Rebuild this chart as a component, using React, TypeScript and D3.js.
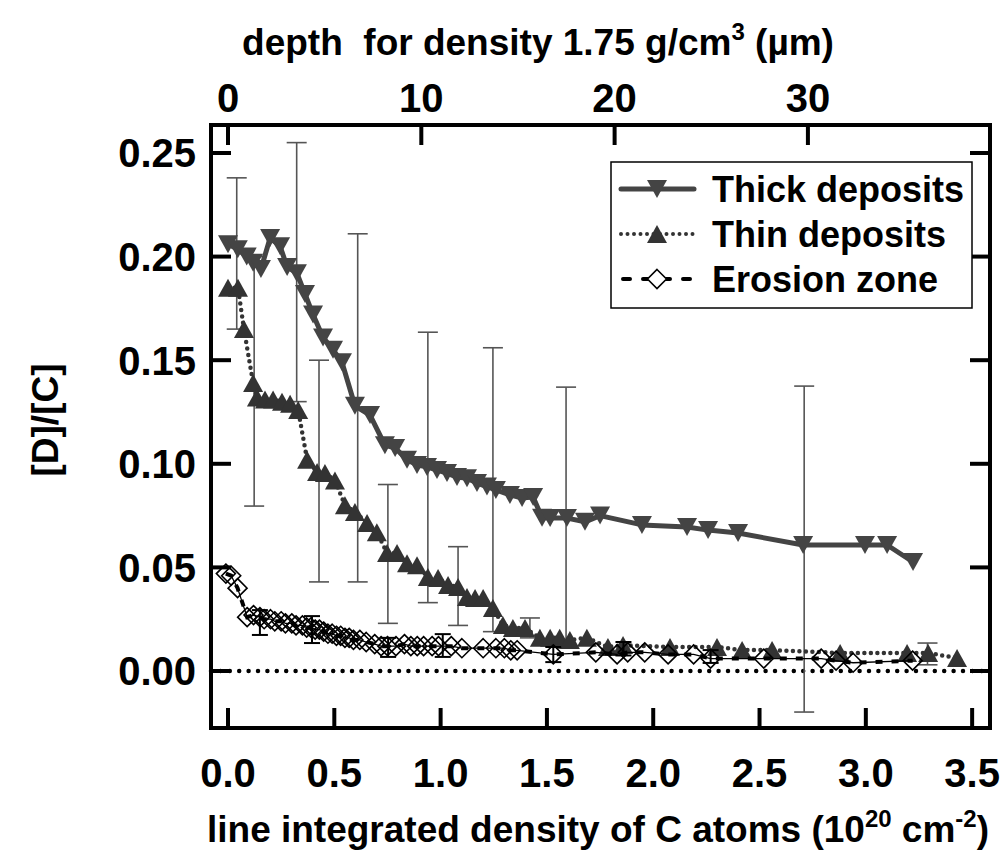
import React from "react";
import * as d3 from "d3";

// line integrated density (1e20 cm^-2) and [D]/[C]
const thickX = [0.0, 0.046, 0.088, 0.118, 0.155, 0.198, 0.245, 0.278, 0.324, 0.362, 0.4, 0.447, 0.494, 0.536, 0.597, 0.668, 0.738, 0.786, 0.842, 0.889, 0.936, 0.983, 1.03, 1.077, 1.124, 1.171, 1.218, 1.26, 1.326, 1.383, 1.435, 1.477, 1.515, 1.594, 1.679, 1.75, 1.947, 2.159, 2.258, 2.399, 2.705, 2.996, 3.1, 3.222];
const thickY = [0.206, 0.2035, 0.2, 0.197, 0.194, 0.209, 0.205, 0.195, 0.192, 0.182, 0.172, 0.161, 0.155, 0.149, 0.128, 0.1235, 0.109, 0.1076, 0.102, 0.0994, 0.0985, 0.097, 0.0955, 0.0936, 0.093, 0.0907, 0.089, 0.0874, 0.085, 0.0835, 0.084, 0.074, 0.0738, 0.0738, 0.072, 0.075, 0.0705, 0.0695, 0.068, 0.0666, 0.0608, 0.0608, 0.0608, 0.0526];

const thinX = [0.0, 0.047, 0.075, 0.118, 0.136, 0.174, 0.212, 0.254, 0.292, 0.33, 0.372, 0.419, 0.456, 0.503, 0.55, 0.597, 0.654, 0.7, 0.748, 0.795, 0.842, 0.889, 0.94, 0.988, 1.035, 1.082, 1.124, 1.162, 1.2, 1.246, 1.293, 1.34, 1.397, 1.467, 1.515, 1.56, 1.608, 1.688, 1.787, 1.858, 2.079, 2.3, 2.418, 2.559, 2.879, 3.194, 3.293, 3.429];
const thinY = [0.185, 0.185, 0.165, 0.139, 0.132, 0.131, 0.131, 0.13, 0.129, 0.126, 0.102, 0.096, 0.0955, 0.092, 0.08, 0.0767, 0.0714, 0.067, 0.057, 0.057, 0.052, 0.051, 0.0454, 0.0449, 0.0415, 0.0405, 0.0357, 0.0352, 0.0352, 0.0304, 0.0222, 0.0207, 0.0207, 0.016, 0.016, 0.016, 0.015, 0.016, 0.0116, 0.0125, 0.0116, 0.0116, 0.0101, 0.0101, 0.0087, 0.0087, 0.0087, 0.0063];

const erosionX = [-0.01, 0.015, 0.045, 0.09, 0.12, 0.15, 0.17, 0.2, 0.22, 0.25, 0.27, 0.3, 0.32, 0.35, 0.37, 0.39, 0.41, 0.43, 0.45, 0.47, 0.49, 0.51, 0.53, 0.55, 0.57, 0.59, 0.62, 0.65, 0.69, 0.72, 0.75, 0.79, 0.83, 0.86, 0.89, 0.92, 0.96, 0.99, 1.05, 1.1, 1.2, 1.26, 1.3, 1.33, 1.36, 1.53, 1.73, 1.83, 1.88, 1.96, 2.07, 2.19, 2.27, 2.52, 2.79, 2.86, 2.94, 3.22];
const erosionY = [0.047, 0.046, 0.04, 0.026, 0.027, 0.026, 0.025, 0.025, 0.024, 0.024, 0.023, 0.023, 0.022, 0.022, 0.021, 0.021, 0.02, 0.02, 0.019, 0.018, 0.018, 0.017, 0.017, 0.016, 0.016, 0.015, 0.015, 0.014, 0.013, 0.012, 0.012, 0.012, 0.013, 0.012, 0.012, 0.012, 0.012, 0.012, 0.012, 0.011, 0.011, 0.011, 0.011, 0.01, 0.01, 0.008, 0.009, 0.008, 0.009, 0.009, 0.008, 0.008, 0.006, 0.006, 0.006, 0.005, 0.004, 0.005];

// error bars: x, low, high
const thickErrX = [0.041, 0.323, 0.61, 0.94, 1.246, 1.59, 2.71];
const thickErrLo = [0.165, 0.13, 0.043, 0.033, 0.019, 0.011, -0.0198];
const thickErrHi = [0.238, 0.255, 0.211, 0.1635, 0.156, 0.137, 0.1375];
const thinErrX = [0.123, 0.428, 0.752, 1.082, 1.42, 3.29];
const thinErrLo = [0.0796, 0.043, 0.023, 0.022, 0.016, 0.003];
const thinErrHi = [0.2, 0.15, 0.09, 0.06, 0.0256, 0.0135];
const erosionErrX = [0.15, 0.395, 0.753, 1.01, 1.53, 1.86, 2.27];
const erosionErrLo = [0.0174, 0.0135, 0.0068, 0.0068, 0.0043, 0.0075, 0.0039];
const erosionErrHi = [0.0294, 0.0265, 0.016, 0.0178, 0.0116, 0.014, 0.0101];

const xTicks = [0, 0.5, 1, 1.5, 2, 2.5, 3, 3.5];
const yTicks = [0, 0.05, 0.1, 0.15, 0.2, 0.25];
const depthTicks = [0, 10, 20, 30];
const legendNames = ["Thick deposits", "Thin deposits", "Erosion zone"];

const W = 1003;
const H = 853;
const L = 211, R = 990, T = 125, B = 728;
const FONT = "Arial, 'Liberation Sans', Helvetica, sans-serif";

const x = d3.scaleLinear().domain([-0.08, 3.584]).range([L, R]);
const y = d3.scaleLinear().domain([-0.0275, 0.2635]).range([B, T]);
// depth in um for 1.75 g/cm3, roughly 11 um per 1e20 C/cm2
const xDepth = d3.scaleLinear().domain([-0.88, 39.42]).range([L, R]);

// markers a bit taller than equilateral, like the original
const upTri = "M0,-9L10,9L-10,9Z";
const downTri = "M0,9L10,-9L-10,-9Z";
const diamond = "M0,-9.5L9.5,0L0,9.5L-9.5,0Z";

const zip = (xs: number[], ys: number[]) => xs.map((v, i) => [v, ys[i]] as [number, number]);

const line = d3
  .line<[number, number]>()
  .x(d => x(d[0]))
  .y(d => y(d[1]));

const ErrBars: React.FC<{ xs: number[]; lo: number[]; hi: number[]; color: string; w: number; cap: number }> = ({ xs, lo, hi, color, w, cap }) => (
  <g stroke={color} strokeWidth={w}>
    {xs.map((v, i) => (
      <g key={i}>
        <line x1={x(v)} x2={x(v)} y1={y(lo[i])} y2={y(hi[i])} />
        <line x1={x(v) - cap} x2={x(v) + cap} y1={y(lo[i])} y2={y(lo[i])} />
        <line x1={x(v) - cap} x2={x(v) + cap} y1={y(hi[i])} y2={y(hi[i])} />
      </g>
    ))}
  </g>
);

const App: React.FC = () => {
  const thick = zip(thickX, thickY);
  const thin = zip(thinX, thinY);
  const erosion = zip(erosionX, erosionY);
  const legY = [189, 234, 279];

  return (
    <svg width={W} height={H} style={{ position: "absolute", left: 0, top: 0, background: "#fff" }} fontFamily={FONT} fontWeight="bold">
      {/* zero line */}
      <line x1={L} x2={R} y1={y(0)} y2={y(0)} stroke="#000" strokeWidth={4.5} strokeDasharray="0,9.4" strokeLinecap="round" />

      <ErrBars xs={thickErrX} lo={thickErrLo} hi={thickErrHi} color="#555" w={1.6} cap={10} />
      <ErrBars xs={thinErrX} lo={thinErrLo} hi={thinErrHi} color="#555" w={1.6} cap={10} />

      {/* thick deposits */}
      <path d={line(thick) as string} fill="none" stroke="#444" strokeWidth={5} strokeLinejoin="round" />
      {thick.map((d, i) => (
        <path key={i} d={downTri} transform={`translate(${x(d[0])},${y(d[1])})`} fill="#444" />
      ))}

      {/* thin deposits */}
      <path d={line(thin) as string} fill="none" stroke="#333" strokeWidth={4.5} strokeDasharray="0,6.5" strokeLinecap="round" />
      {thin.map((d, i) => (
        <path key={i} d={upTri} transform={`translate(${x(d[0])},${y(d[1])})`} fill="#333" />
      ))}

      {/* erosion zone */}
      <ErrBars xs={erosionErrX} lo={erosionErrLo} hi={erosionErrHi} color="#000" w={2} cap={8} />
      <path d={line(erosion) as string} fill="none" stroke="#000" strokeWidth={1.3} />
      <path d={line(erosion) as string} fill="none" stroke="#000" strokeWidth={4} strokeDasharray="7,9" />
      {erosion.map((d, i) => (
        <path key={i} d={diamond} transform={`translate(${x(d[0])},${y(d[1])})`} fill="#fff" fillOpacity={0} stroke="#000" strokeWidth={1.6} />
      ))}

      {/* frame and ticks */}
      <rect x={L} y={T} width={R - L} height={B - T} fill="none" stroke="#000" strokeWidth={4} />
      <g stroke="#000" strokeWidth={4}>
        {xTicks.map(t => (
          <line key={"b" + t} x1={x(t)} x2={x(t)} y1={B} y2={B - 20} />
        ))}
        {depthTicks.map(t => (
          <line key={"t" + t} x1={xDepth(t)} x2={xDepth(t)} y1={T} y2={T + 20} />
        ))}
        {yTicks.map(t => (
          <g key={"y" + t}>
            <line x1={L} x2={L + 20} y1={y(t)} y2={y(t)} />
            <line x1={R} x2={R - 20} y1={y(t)} y2={y(t)} />
          </g>
        ))}
      </g>

      {/* tick labels */}
      <g fontSize={40} fill="#000">
        {xTicks.map(t => (
          <text key={t} x={x(t)} y={787} textAnchor="middle">{d3.format(".1f")(t)}</text>
        ))}
        {yTicks.map(t => (
          <text key={t} x={196} y={y(t)} dy="0.36em" textAnchor="end">{d3.format(".2f")(t)}</text>
        ))}
        {depthTicks.map(t => (
          <text key={t} x={xDepth(t)} y={112} textAnchor="middle">{t}</text>
        ))}
      </g>

      {/* axis titles */}
      <text x={538} y={55} fontSize={37} textAnchor="middle" style={{ whiteSpace: "pre" }}>
        {"depth  for density 1.75 g/cm"}
        <tspan fontSize={24} dy={-15}>3</tspan>
        <tspan dy={15}>{" ("}</tspan>
        <tspan>µ</tspan>
        <tspan>m)</tspan>
      </text>
      <text x={598} y={842} fontSize={37} textAnchor="middle">
        {"line integrated density of C atoms (10"}
        <tspan fontSize={24} dy={-15}>20</tspan>
        <tspan dy={15}>{" cm"}</tspan>
        <tspan fontSize={24} dy={-15}>-2</tspan>
        <tspan dy={15}>)</tspan>
      </text>
      <text transform="translate(58,420) rotate(-90)" fontSize={37} textAnchor="middle">[D]/[C]</text>

      {/* legend */}
      <rect x={611} y={162} width={361} height={146} fill="#fff" stroke="#000" strokeWidth={1.5} />
      <line x1={621} x2={694} y1={legY[0]} y2={legY[0]} stroke="#444" strokeWidth={5} strokeLinecap="round" />
      <path d={downTri} transform={`translate(657,${legY[0]})`} fill="#444" />
      <line x1={621} x2={694} y1={legY[1]} y2={legY[1]} stroke="#333" strokeWidth={4} strokeDasharray="0,6.5" strokeLinecap="round" />
      <path d={upTri} transform={`translate(657,${legY[1]})`} fill="#333" />
      <line x1={623} x2={694} y1={legY[2]} y2={legY[2]} stroke="#000" strokeWidth={4} strokeDasharray="7,13" strokeLinecap="round" />
      <path d={diamond} transform={`translate(657,${legY[2]})`} fill="#fff" stroke="#000" strokeWidth={1.6} />
      {legendNames.map((n, i) => (
        <text key={n} x={712} y={legY[i]} dy="0.36em" fontSize={36}>{n}</text>
      ))}
    </svg>
  );
};

export default App;
